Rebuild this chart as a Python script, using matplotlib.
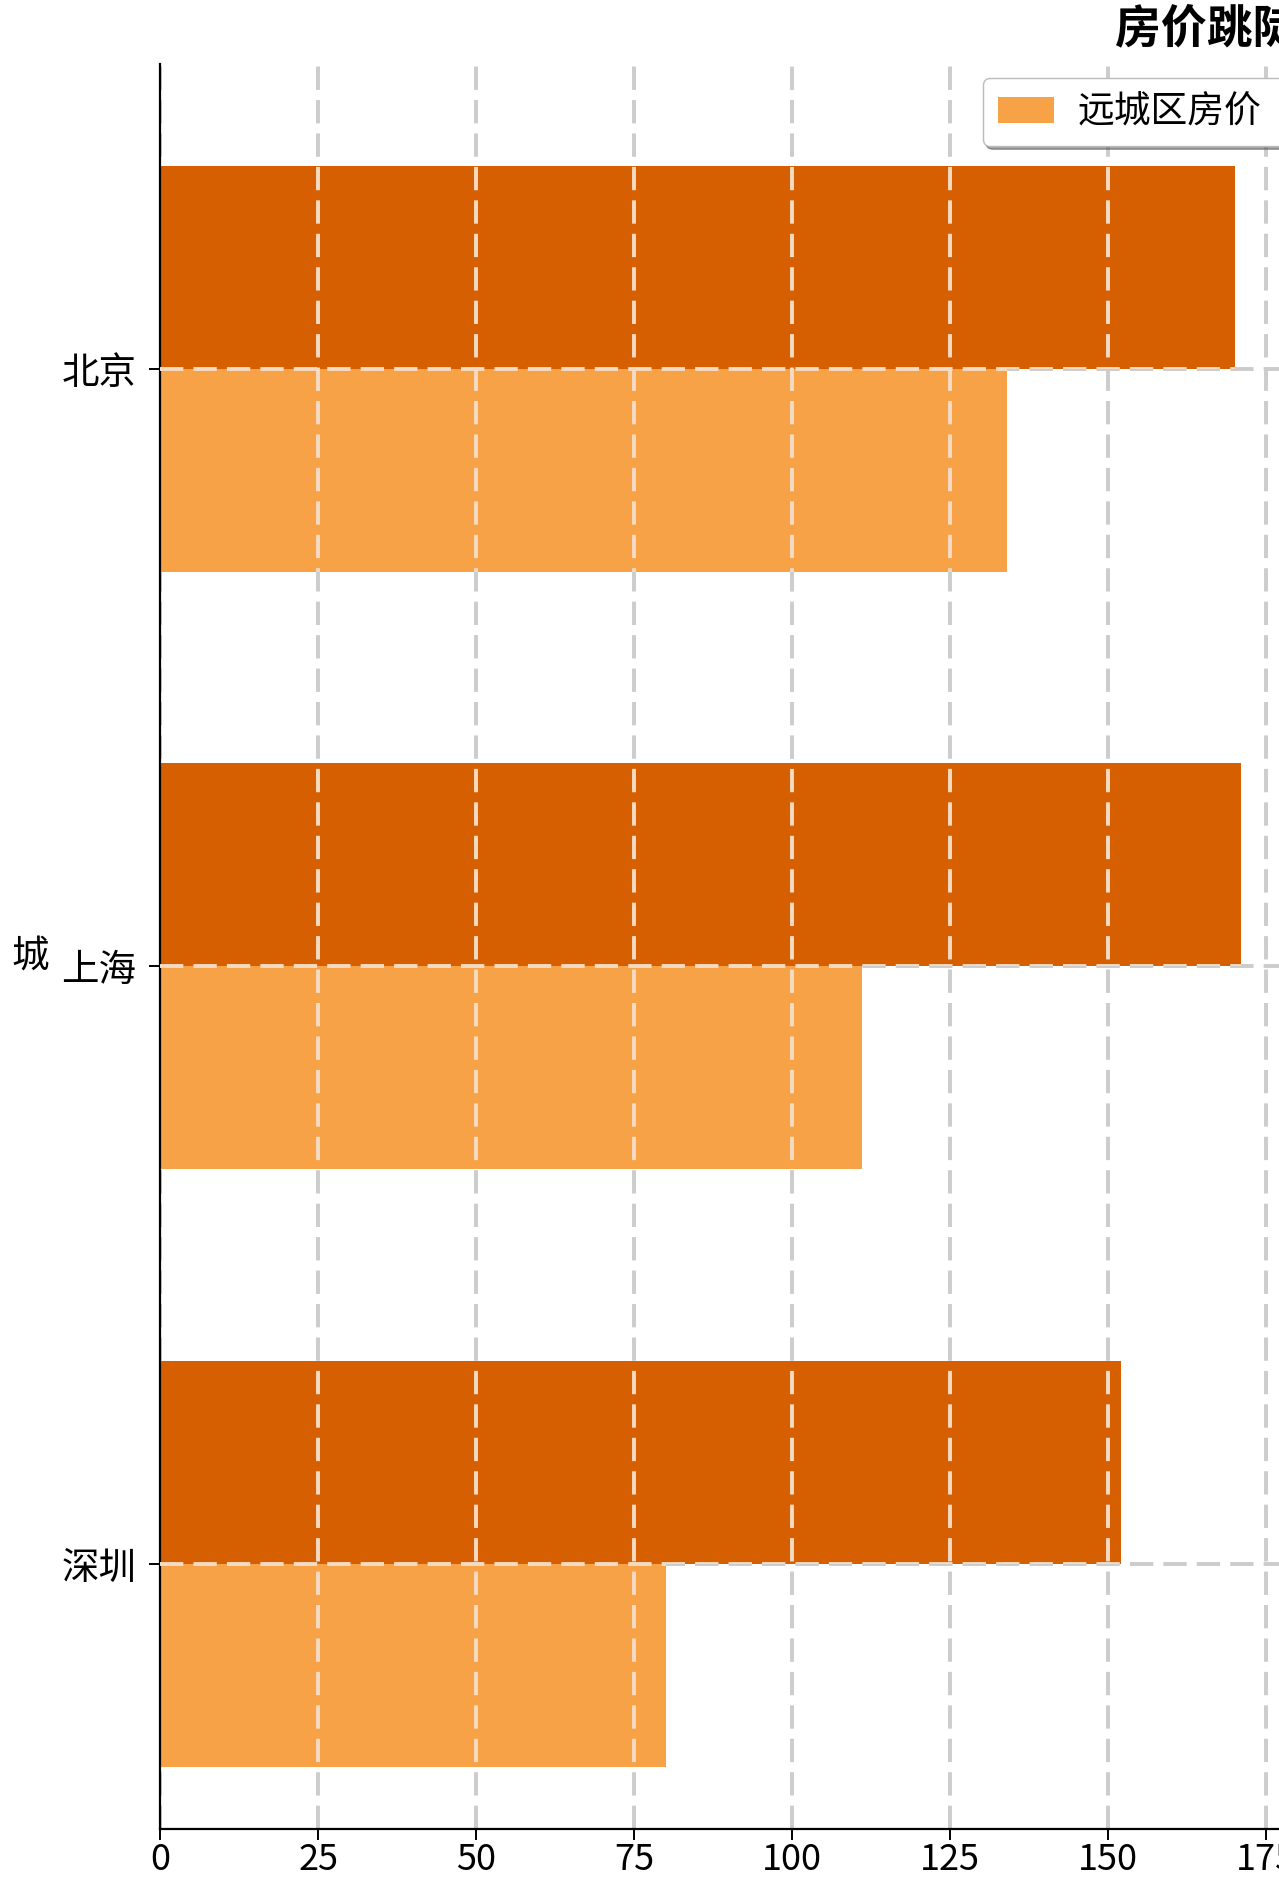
import matplotlib
matplotlib.use("Agg")
import matplotlib.pyplot as plt
import numpy as np

plt.rcParams['font.family'] = ['Noto Sans CJK SC', 'DejaVu Sans']

cities = ['北京', '上海', '深圳']
near_prices = [170, 171, 152]   # 近城区房价
far_prices = [134, 111, 80]     # 远城区房价
x_ticks = [0, 25, 50, 75, 100, 125, 150, 175]
title_text = '房价跳陡对比'
ylabel_text = '城'
near_label = '近城区房价'
far_label = '远城区房价'

W, H = 1279, 1879
fig = plt.figure(figsize=(W / 100, H / 100), dpi=100)
ax_left, ax_right_px = 160, 1298
ax_top, ax_bottom = 64, 1829
ax = fig.add_axes([ax_left / W, 1 - ax_bottom / H,
                   (ax_right_px - ax_left) / W, (ax_bottom - ax_top) / H])

dark = '#D65F02'
light = '#F8A247'
h = 0.34
y = np.arange(len(cities))

bars_near = ax.barh(y - h / 2, near_prices, height=h, color=dark, label=near_label, zorder=2)
bars_far = ax.barh(y + h / 2, far_prices, height=h, color=light, label=far_label, zorder=2)

ax.set_xlim(0, 180)
ax.set_ylim(2.444, -0.51)
ax.set_xticks(x_ticks)
ax.set_yticks(y)
ax.set_yticklabels(cities)

dash = (0, (6, 2.6))
ax.set_axisbelow(True)
ax.grid(True, linestyle=dash, color='#cccccc', linewidth=2.8)

# lighter grid segments where the grid crosses the bars
for patch in list(bars_near) + list(bars_far):
    for xv in x_ticks[1:]:
        ln = ax.axvline(xv, color='#f4dcc4', linestyle=dash, linewidth=2.8, zorder=3)
        ln.set_clip_path(patch)
    for yv in y:
        ln = ax.axhline(yv, color='#f4dcc4', linestyle=dash, linewidth=2.8, zorder=3)
        ln.set_clip_path(patch)

for s in ['top', 'right']:
    ax.spines[s].set_visible(False)
for s in ['left', 'bottom']:
    ax.spines[s].set_linewidth(1.6)
    ax.spines[s].set_color('black')

ax.tick_params(axis='both', length=8, width=1.4)
ax.tick_params(axis='y', pad=9, labelsize=27)
ax.tick_params(axis='x', pad=1, labelsize=26)

ax.set_ylabel(ylabel_text, rotation=0, fontsize=27, ha='right', va='center')
ax.yaxis.set_label_coords(-0.098, 0.494)

handles = [bars_far, bars_near]
fig.legend(handles, [far_label, near_label], ncol=2, fontsize=26.5,
           loc='upper left', bbox_to_anchor=(983 / W, 1 - 78 / H),
           borderaxespad=0,
           frameon=True, fancybox=True, shadow=True, borderpad=0.4,
           handlelength=1.53, handleheight=0.72, handletextpad=0.65,
           columnspacing=1.5, edgecolor='#bbbbbb', framealpha=1)

fig.text(1115 / W, 1 - 6 / H, title_text, fontsize=33, fontweight='bold',
         ha='left', va='top')

fig.savefig('out.png', dpi=100)
